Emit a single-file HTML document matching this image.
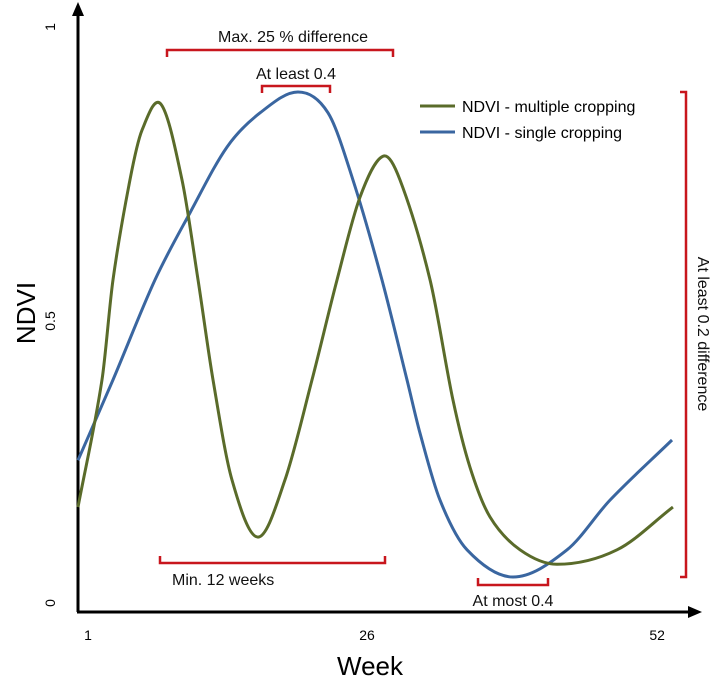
<!DOCTYPE html>
<html><head><meta charset="utf-8"><style>
body{margin:0;background:#fff;}
svg{display:block;font-family:"Liberation Sans",sans-serif;}
</style></head><body>
<svg id="chart" width="713" height="679">
<g id="axes">
<line x1="78" y1="612" x2="78" y2="14" stroke="#000" stroke-width="3"/>
<path d="M72,16 L78,2 L84,16 z" fill="#000"/>
<line x1="77" y1="612" x2="690" y2="612" stroke="#000" stroke-width="3"/>
<path d="M688,606 L702,612 L688,618 z" fill="#000"/>
</g>
<text x="35" y="313" font-size="26" text-anchor="middle" transform="rotate(-90 35 313)">NDVI</text>
<text x="370" y="675" font-size="26" text-anchor="middle">Week</text>
<g id="ticks"></g>
<g id="series"></g>
<g fill="none" stroke="#c8161d" stroke-width="2.5">
<path d="M167,57 V50 H393 V57"/>
<path d="M262,93 V86 H330 V93"/>
<path d="M680,92 H686 V577 H680"/>
<path d="M160,556 V563 H385 V556"/>
<path d="M478,578 V585 H548 V578"/>
</g>
<g font-size="16" fill="#111">
<text x="293" y="42" text-anchor="middle">Max. 25 % difference</text>
<text x="296" y="79" text-anchor="middle">At least 0.4</text>
<text x="172" y="585">Min. 12 weeks</text>
<text x="513" y="606" text-anchor="middle">At most 0.4</text>
<text x="698" y="334" text-anchor="middle" transform="rotate(90 698 334)">At least 0.2 difference</text>
</g>
<g font-size="16">
<g><line x1="420" y1="106" x2="455" y2="106" stroke="#5a6b2a" stroke-width="3"/><text x="462" y="112">NDVI - multiple cropping</text></g>
<g><line x1="420" y1="132" x2="455" y2="132" stroke="#3a66a0" stroke-width="3"/><text x="462" y="138">NDVI - single cropping</text></g>
</g>
</svg>
<script>
const xTicks=[1,26,52];
const yTicks=[0,0.5,1];
const yTickLabels=["0","0.5","1"];
const greenWeeks=[1,3.05,3.99,5.44,6.47,8.09,9.89,11.26,12.54,14.16,16.38,18.69,21.0,23.14,25.1,27.07,28.52,31.09,33.05,34.5,36.21,38.78,41.94,47.07,51.85];
const greenValues=[.166,.386,.559,.732,.818,.863,.732,.559,.386,.213,.114,.213,.386,.559,.702,.773,.732,.559,.351,.235,.149,.092,.067,.092,.166];
const blueWeeks=[1,3.99,7.58,10.57,13.74,16.56,19.8,22.37,24.5,26.98,29.12,30.23,31.94,34.25,38.18,42.8,46.47,51.77];
const blueValues=[.247,.386,.559,.675,.789,.848,.884,.848,.732,.559,.386,.294,.178,.092,.045,.092,.178,.282];
const X=w=>78+(w-1)*11.7;
const LX=w=>88+(w-1)*11.16;
const Y=v=>603-v*578;
const NS="http://www.w3.org/2000/svg";
const tg=document.getElementById('ticks');
xTicks.forEach(t=>{const e=document.createElementNS(NS,'text');
e.setAttribute('x',LX(t));e.setAttribute('y',640);e.setAttribute('font-size','14');e.setAttribute('text-anchor','middle');e.textContent=t;


tg.appendChild(e);});
yTicks.forEach((t,i)=>{const e=document.createElementNS(NS,'text');const yy=Y(t)+(t==0?0:(t==1?2:7));
e.setAttribute('x',55);e.setAttribute('y',yy);e.setAttribute('font-size','14');e.setAttribute('text-anchor','middle');e.setAttribute('transform','rotate(-90 55 '+yy+')');e.textContent=yTickLabels[i];


tg.appendChild(e);});
function path(ws,vs){const p=ws.map((w,i)=>[X(w),Y(vs[i])]);const n=p.length,m=[];
for(let i=0;i<n;i++){const a=p[Math.max(0,i-1)],b=p[Math.min(n-1,i+1)];m[i]=(b[1]-a[1])/(b[0]-a[0]);}
let s='M'+p[0][0]+','+p[0][1];
for(let i=0;i<n-1;i++){const h=(p[i+1][0]-p[i][0])/3;
s+=' C'+(p[i][0]+h)+','+(p[i][1]+m[i]*h)+' '+(p[i+1][0]-h)+','+(p[i+1][1]-m[i+1]*h)+' '+p[i+1][0]+','+p[i+1][1];}return s;}
const sg=document.getElementById('series');
[[blueWeeks,blueValues,'#3a66a0','single-cropping-line'],[greenWeeks,greenValues,'#5a6b2a','multiple-cropping-line']].forEach(s=>{
const e=document.createElementNS(NS,'path');e.setAttribute('d',path(s[0],s[1]));e.setAttribute('fill','none');e.setAttribute('stroke',s[2]);e.setAttribute('stroke-width','3');e.setAttribute('stroke-linejoin','round');


sg.appendChild(e);});
</script>
</body></html>
